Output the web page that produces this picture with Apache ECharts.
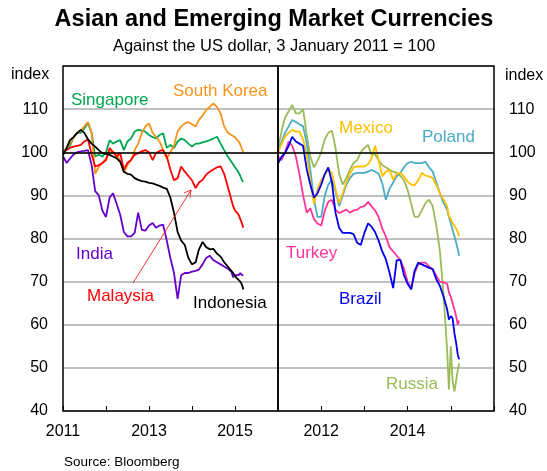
<!DOCTYPE html>
<html><head><meta charset="utf-8">
<script src="https://cdn.jsdelivr.net/npm/echarts@6/dist/echarts.min.js"></script>
<style>html,body{margin:0;padding:0;background:#fff}#c{width:547px;height:471px}</style>
</head><body><div id="c"></div>
<script>
const dates = ['2011-01-03','2011-02-01','2011-03-01','2011-04-01','2011-05-01','2011-06-01','2011-07-01','2011-08-01','2011-09-01','2011-10-01','2011-11-01','2011-12-01',
'2012-01-01','2012-02-01','2012-03-01','2012-04-01','2012-05-01','2012-06-01','2012-07-01','2012-08-01','2012-09-01','2012-10-01','2012-11-01','2012-12-01',
'2013-01-01','2013-02-01','2013-03-01','2013-04-01','2013-05-01','2013-06-01','2013-07-01','2013-08-01','2013-09-01','2013-10-01','2013-11-01','2013-12-01',
'2014-01-01','2014-02-01','2014-03-01','2014-04-01','2014-05-01','2014-06-01','2014-07-01','2014-08-01','2014-09-01','2014-10-01','2014-11-01','2014-12-01',
'2014-12-16','2015-01-01','2015-01-16','2015-02-01','2015-02-15','2015-03-01','2015-03-13'];

const singapore = [100,101,101.5,103.5,104.5,104.5,105.5,106.8,104.5,99,99.5,99,
100,102.8,102,102.5,102.8,100.5,102.5,103.2,104.8,105.2,105,104.8,
104,103.5,103.2,104,104.4,101,101.7,101,102.5,103.2,102.8,102,
101.3,102,102,102.3,102.5,102.8,103.2,103.6,102,100.5,99,97.8,
97.2,96.5,96,95.3,94.5,93.5,93.2];
const southKorea = [100,101,102,103.5,104.5,105,106,107,104.5,95,96.7,97.5,
98.5,100,100.2,99.5,98.2,95.2,97,98.2,100.5,102,104.4,106,
106.7,104.5,103.6,102.5,100.5,98.5,100,101.5,104.8,106,106.7,107,
106.5,106,107.5,108.5,109.8,110.5,111.3,110.5,109,106,104.5,104,
104.2,103.5,103,102.5,101.8,100.8,100];
const india = [99,97.5,98.5,99.5,100,100.2,100.3,100.5,97,91,90,86.5,
85,89.5,90.5,88,85.5,81.5,80.5,80.5,81.3,86,82,81.8,
83,83.6,82.5,83,83.2,79.5,75.5,72,66,71.5,72,72,
72.3,72.5,72.8,74,75.5,76,75,74.5,74,73.5,73,72.3,
71,71.5,71.8,71.5,72,71.5,71.5];
const malaysia = [100,100.5,101,101.3,101.5,101.7,102.5,103,99.5,96.7,97,97.5,
98.2,101,100,99,99.8,96,97.5,98.2,99.4,99.8,100.2,100.5,
100,98.2,99.8,100.3,100.5,99,96,93.5,94,96.7,95.5,94.5,
93.5,91.7,93,93.6,94.8,95.5,96,96.5,96.7,95,92,89,
87.5,86.5,86,85.5,84.5,83.5,82.5];
const indonesia = [99.4,101,102.8,103.5,104.5,105.2,104.5,103,102,101.3,100.5,99.8,
99.6,99.4,99,98.6,97.8,95.5,95,94.8,94,93.6,93.3,93.2,
92.9,92.8,92.5,92.2,91.8,91.5,89.5,86,81.5,79.5,78.5,75.5,
74,74.5,77.5,79.2,78,77.5,77.6,76.5,75.8,74.5,73.5,72.5,
72,71.3,70.8,70.5,70,69.3,68.2];

const mexico = [100,102,103.6,104.5,105.2,104.8,104.8,103,99.5,93.5,88,91.5,
93.5,94.8,95.9,95.2,91.5,88.2,90.5,93,95,96.5,96.7,96.7,
96.7,97.2,98.5,101.5,98.2,94.4,95.5,95.9,93.6,95,95.2,94.4,
93.2,92.5,92.3,93.5,95.2,94.6,94.4,94,92.3,90.5,89,87.5,
85.2,84.5,83.6,83,82.8,81.5,80.5];
const poland = [100.5,102.5,104.5,106,107.5,107,106.5,106,102,96,89,85,
85,90,92.5,93.6,91,87.5,90,92.5,94,95,95.2,95.2,
95.2,95.5,95.9,95.5,95,92.8,89,91.5,93,94.4,95.2,96.5,
97.5,97.8,97.5,97.5,97.5,97.8,96.5,95.5,93,90.5,88.2,86.7,
85,83.6,82,80.5,79,77.5,76];
const russia = [101,105,108,109.5,111,109,109,110,104,99,96.5,98,
100,103,104.5,105,101,95,92.5,94,96,97.5,98.2,100,
101,101.7,99.5,99.5,98.2,97,96.5,96,95.5,95.2,94.5,93.6,
91.3,88,85,85,86.5,88.2,89,87.5,83,77,67,54,
45,55,47,44.5,47,49.5,51];
const turkey = [99,98.2,100,102.5,101.5,99,95,90,86,87,84.5,83.5,
83,86.5,88.5,89,86.7,85.9,86.3,86.7,86,86.5,86.7,87.3,
87.5,88.5,87.5,86.5,85,82.3,80.5,78,77,76,75,73,
70,68.5,72,74,74.4,74.4,73.5,72.9,71.3,70,69.8,69.5,
67.5,66.5,65,63.5,62,60,61];
const brazil = [97.5,99,99.8,101.5,103.6,102.5,102,101.5,96,92.5,89.5,90.5,
92.5,95,96.5,93,86,82.5,81.3,81.3,81.3,81,79,78.5,
81.3,83.5,82.8,81.5,79.5,77,75.2,72.1,68.5,75,75,71.5,
69.5,68.2,72.5,74.4,74,73.6,73.2,72.9,70.5,69,66.5,63.6,
61.2,62,61.5,58,55.8,53,52];

const yTicks = [40,50,60,70,80,90,100,110];
const leftYearLabels = [2011,2013,2015];
const rightYearLabels = [2012,2014];

function toYear(s){const p=s.split('-').map(Number);const a=Date.UTC(p[0],0,1),b=Date.UTC(p[0]+1,0,1);return p[0]+(Date.UTC(p[0],p[1]-1,p[2])-a)/(b-a);}
const xs = dates.map(toYear);
const pairs = v => v.map((y,i)=>[xs[i],y]);

const FONT = 'Liberation Sans, Arial, sans-serif';
const chart = echarts.init(document.getElementById('c'), null, {renderer:'canvas'});

function xAxisFor(gi, labels){
  return {type:'value', gridIndex:gi, min:2011, max:2016, interval:1,
    axisLine:{show:false}, splitLine:{show:false},
    axisTick:{show:true, inside:true, length:5, lineStyle:{color:'#000', width:1}},
    axisLabel:{margin:13, fontSize:16, color:'#000', fontFamily:FONT,
      formatter:v=>labels.indexOf(Math.round(v))>=0?String(Math.round(v)):''}};
}
function yAxisFor(gi, pos){
  return {type:'value', gridIndex:gi, min:40, max:120, interval:10, position:pos,
    axisLine:{show:false}, axisTick:{show:false},
    splitLine:{show:true, lineStyle:{color:'#ababab', width:1.5}},
    axisLabel:{margin:15, fontSize:16, color:'#000', fontFamily:FONT,
      formatter:v=>yTicks.indexOf(v)>=0?String(v):''}};
}
function line(name, data, color, gi){
  return {name, type:'line', xAxisIndex:gi, yAxisIndex:gi, data:pairs(data), showSymbol:false,
    symbol:'none', lineStyle:{color, width:1.8}, itemStyle:{color}, animation:false, z:3};
}
const ref = gi => ({type:'line', xAxisIndex:gi, yAxisIndex:gi, data:[], silent:true, animation:false,
  markLine:{silent:true, symbol:'none', label:{show:false}, lineStyle:{color:'#000', width:1.5, type:'solid'}, data:[{yAxis:100}], z:5}});

const txt = (t, x, y, color, size, weight, align) => ({type:'text', style:{text:t, x, y, fill:color, font:(weight||'normal')+' '+size+'px '+FONT, textAlign:align||'left', textVerticalAlign:'middle'}, z:10});

chart.setOption({
  animation:false,
  backgroundColor:'#fff',
  grid:[{left:63, top:66, width:215, height:345, show:true, borderColor:'#000', borderWidth:1.5, z:4},
        {left:278, top:66, width:216, height:345, show:true, borderColor:'#000', borderWidth:1.5, z:4}],
  xAxis:[xAxisFor(0, leftYearLabels), xAxisFor(1, rightYearLabels)],
  yAxis:[yAxisFor(0,'left'), yAxisFor(1,'right')],
  series:[
    line('Singapore', singapore, '#00a651', 0),
    line('South Korea', southKorea, '#f7941d', 0),
    line('India', india, '#6600cc', 0),
    line('Malaysia', malaysia, '#ff0000', 0),
    line('Indonesia', indonesia, '#000000', 0),
    ref(0),
    line('Russia', russia, '#9bbb59', 1),
    line('Poland', poland, '#4bacc6', 1),
    line('Mexico', mexico, '#ffc000', 1),
    line('Turkey', turkey, '#ff3399', 1),
    line('Brazil', brazil, '#0000ee', 1),
    ref(1)
  ],
  graphic:[
    txt('Asian and Emerging Market Currencies', 274, 20, '#000', 23.5, 'bold', 'center'),
    txt('Against the US dollar, 3 January 2011 = 100', 274, 46, '#000', 16.5, 'normal', 'center'),
    txt('index', 11, 75, '#000', 16),
    txt('index', 505, 76, '#000', 16),
    txt('Singapore', 71, 100, '#00a651', 17),
    txt('South Korea', 173, 91, '#f7941d', 17),
    txt('India', 76, 254, '#6600cc', 17),
    txt('Malaysia', 87, 296, '#ff0000', 17),
    txt('Indonesia', 193, 303, '#000', 17),
    txt('Mexico', 339, 128, '#ffc000', 17),
    txt('Poland', 422, 137, '#4bacc6', 17),
    txt('Turkey', 286, 253, '#ff3399', 17),
    txt('Brazil', 339, 299, '#0000ee', 17),
    txt('Russia', 386, 384, '#9bbb59', 17),
    txt('Source: Bloomberg', 64, 462, '#000', 13.5),
    {type:'line', shape:{x1:133, y1:283, x2:191, y2:190}, style:{stroke:'#ff0000', lineWidth:0.8}, z:10},
    {type:'polyline', shape:{points:[[184,193],[191,190],[190,197.5]]}, style:{stroke:'#ff0000', lineWidth:0.8, fill:null}, z:10}
  ]
});
</script></body></html>
